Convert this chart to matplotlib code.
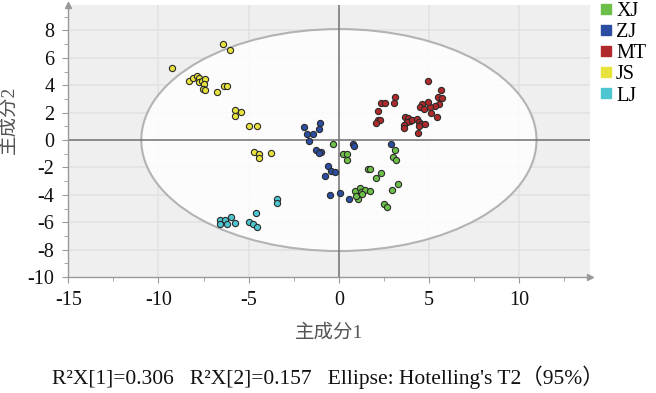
import numpy as np
import matplotlib.pyplot as plt
from matplotlib.patches import Ellipse
from matplotlib.lines import Line2D

plt.rcParams["font.family"] = ["Liberation Serif", "Noto Sans CJK SC", "DejaVu Sans"]
plt.rcParams["axes.unicode_minus"] = False

# PCA scores
xj_x = [-0.30, 0.22, 0.45, 0.45, 3.11, 2.98, 3.17, 1.62, 1.75, 2.31, 2.08,
        0.88, 1.16, 1.25, 1.44, 1.72, 1.06, 2.92, 3.30, 2.50, 2.64, 0.95, 1.30]
xj_y = [-0.30, -1.05, -1.05, -1.42, -0.76, -1.25, -1.47, -2.11, -2.11, -2.40, -2.77,
        -3.75, -3.51, -3.82, -3.63, -3.75, -4.31, -3.63, -3.19, -4.66, -4.90, -4.05, -3.95]

zj_x = [-1.92, -1.04, -1.08, -1.77, -1.45, -1.64, -1.27, -0.99, -1.08,
        -0.58, -0.46, -0.24, -0.77, -0.52, 0.04, 0.54, 0.78, 0.84, 2.87]
zj_y = [0.96, 1.23, 0.83, 0.42, 0.42, -0.07, -0.74, -0.88, -0.93,
        -1.86, -2.28, -2.33, -2.60, -4.04, -3.87, -4.29, -0.27, -0.44, -0.32]

mt_x = [4.92, 5.66, 3.11, 3.05, 2.36, 2.55, 2.14, 2.18, 2.27, 2.03,
        5.47, 5.72, 5.53, 5.31, 5.07, 4.93, 4.60, 4.51, 4.73, 5.10, 5.46,
        3.67, 3.85, 3.95, 3.76, 3.63, 3.58, 4.04, 4.32, 4.45, 4.56, 4.75, 4.45, 4.41]
mt_y = [4.34, 3.65, 3.11, 2.67, 2.70, 2.67, 2.13, 1.47, 1.47, 1.23,
        3.11, 3.04, 2.63, 2.45, 2.43, 2.79, 2.63, 2.38, 2.30, 2.01, 1.65,
        1.69, 1.64, 1.40, 1.35, 1.10, 0.90, 1.46, 1.52, 1.32, 1.15, 1.15, 1.03, 0.54]

js_x = [-6.42, -6.02, -9.27, -8.29, -8.06, -7.88, -7.73, -7.78, -7.60, -7.41,
        -7.45, -7.54, -7.41, -6.76, -6.35, -6.20, -5.77, -5.40, -5.74,
        -4.99, -4.56, -4.71, -4.43, -4.43, -3.78]
js_y = [7.00, 6.54, 5.27, 4.34, 4.53, 4.71, 4.53, 4.26, 4.34, 4.46,
        4.10, 3.73, 3.65, 3.53, 3.97, 3.95, 2.18, 2.06, 1.79,
        1.00, 1.00, -0.88, -1.05, -1.30, -0.93]

lj_x = [-6.58, -6.58, -6.30, -6.20, -5.96, -5.77, -4.62, -4.96, -4.75, -4.53, -3.41, -3.41]
lj_y = [-5.83, -6.15, -5.83, -6.15, -5.61, -6.08, -5.32, -5.96, -6.13, -6.38, -4.29, -4.61]

groups = ["XJ", "ZJ", "MT", "JS", "LJ"]
colors = ["#6cbf48", "#2b4ea2", "#b02a2c", "#e8e23c", "#4ec6d2"]
xs = [xj_x, zj_x, mt_x, js_x, lj_x]
ys = [xj_y, zj_y, mt_y, js_y, lj_y]

fig = plt.figure(figsize=(6.56, 3.93), dpi=100)
ax = fig.add_axes([0.104, 0.295, 0.795, 0.692])
ax.set_facecolor("#efefef")
ax.set_xlim(-15, 13.9)
ax.set_ylim(-10, 9.85)

# grid
for gx in [-10, -5, 5, 10]:
    ax.axvline(gx, color="#e2e2e2", lw=1.2, zorder=0.5)
for gy in range(-8, 10, 2):
    ax.axhline(gy, color="#e2e2e2", lw=1.2, zorder=0.5)

ell = Ellipse((0, 0), 21.9, 16.2, facecolor="white", edgecolor="#a8a8a8",
              lw=1.5, alpha=0.85, zorder=1)
ax.add_patch(ell)
ax.axvline(0, color="#707070", lw=1.1, zorder=2)
ax.axhline(0, color="#707070", lw=1.1, zorder=2)

for x, y, c in zip(xs, ys, colors):
    ax.scatter(x, y, s=20, c=c, edgecolors="#2a2a2a", linewidths=0.8, zorder=3)

ax.set_xticks([-15, -10, -5, 0, 5, 10])
ax.set_xticks(np.arange(-15, 13, 2.5), minor=True)
ax.set_yticks(range(-10, 10, 2))
ax.set_yticks(range(-10, 10, 1), minor=True)
ax.tick_params(labelsize=14.5, colors="#111111", length=4, width=0.8, pad=6)
ax.tick_params(which="both", color="#999999")
ax.tick_params(which="minor", length=3)
for s in ["top", "right"]:
    ax.spines[s].set_visible(False)
for s in ["left", "bottom"]:
    ax.spines[s].set_color("#999999")
    ax.spines[s].set_linewidth(1.0)
ax.plot(1, 0, ">", color="#999999", ms=4, transform=ax.transAxes, clip_on=False)
ax.plot(0, 1, "^", color="#999999", ms=4, transform=ax.transAxes, clip_on=False)

ax.set_xlabel("主成分1", fontsize=14, color="#555555", labelpad=10)
ax.set_ylabel("主成分2", fontsize=14, color="#555555")
ax.yaxis.set_label_coords(-0.098, 0.58)

handles = [Line2D([], [], marker="s", ls="", ms=7.5, color=c) for c in colors]
fig.legend(handles, groups, loc="upper left", bbox_to_anchor=(0.91, 0.995),
           frameon=False, fontsize=14.5, handletextpad=0.05, labelspacing=0.1,
           handlelength=0.9, borderaxespad=0, borderpad=0)

fig.text(0.5, 0.04, "R²X[1]=0.306   R²X[2]=0.157   Ellipse: Hotelling's T2（95%）",
         ha="center", va="center", fontsize=15.5, color="#111111")

fig.savefig("out.png", dpi=100)
